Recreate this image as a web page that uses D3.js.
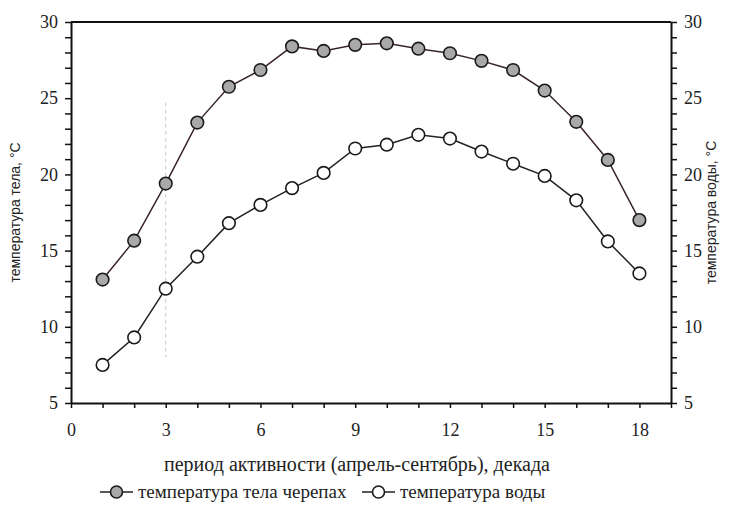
<!DOCTYPE html>
<html>
<head>
<meta charset="utf-8">
<script src="https://cdn.jsdelivr.net/npm/d3@7"></script>
<style>
  html, body { margin: 0; padding: 0; background: #fff; }
  svg { display: block; }
</style>
</head>
<body>
<svg id="chart" width="730" height="511"></svg>
<script>
// Decades of the activity period (April–September)
const decades = [1, 2, 3, 4, 5, 6, 7, 8, 9, 10, 11, 12, 13, 14, 15, 16, 17, 18];
// Turtle body temperature, °C
const bodyTemp = [13.1, 15.65, 19.4, 23.4, 25.75, 26.85, 28.4, 28.1, 28.5, 28.6, 28.25, 27.95, 27.45, 26.85, 25.5, 23.45, 20.95, 17.0];
// Water temperature, °C
const waterTemp = [7.5, 9.3, 12.5, 14.6, 16.8, 18.0, 19.1, 20.1, 21.7, 21.95, 22.6, 22.35, 21.5, 20.7, 19.9, 18.3, 15.6, 13.5];
const xTickValues = [0, 3, 6, 9, 12, 15, 18];
const yTickValues = [5, 10, 15, 20, 25, 30];

const svg = d3.select("#chart");
const plotLeft = 71, plotRight = 671, plotTop = 22, plotBottom = 403;

const x = d3.scaleLinear().domain([0, 19]).range([plotLeft, plotRight]);
const y = d3.scaleLinear().domain([5, 30]).range([plotBottom, plotTop]);

const serif = "'Liberation Serif', 'Times New Roman', serif";
const sans = "'Liberation Sans', Arial, sans-serif";

// faint dashed guide at the 3rd decade
svg.append("line")
  .attr("x1", x(3)).attr("x2", x(3))
  .attr("y1", y(24.7)).attr("y2", y(8))
  .attr("stroke", "#c8c8c8").attr("stroke-width", 1)
  .attr("stroke-dasharray", "4,3");

// top frame line
svg.append("line")
  .attr("x1", plotLeft).attr("x2", plotRight)
  .attr("y1", plotTop).attr("y2", plotTop)
  .attr("stroke", "#111").attr("stroke-width", 2);

function styleAxis(g) {
  g.select(".domain").attr("stroke", "#111").attr("stroke-width", 2);
  g.selectAll(".tick line").attr("stroke", "#111").attr("stroke-width", 1.5);
  g.selectAll(".tick text").attr("font-family", serif).attr("font-size", 18).attr("fill", "#222");
}

// bottom axis: ticks every decade, labels every 3
const xAxis = d3.axisBottom(x)
  .tickValues(d3.range(0, 20, 1))
  .tickSize(5).tickSizeOuter(0)
  .tickFormat(d => xTickValues.includes(d) ? d : "");
svg.append("g").attr("transform", `translate(0,${plotBottom})`).call(xAxis).call(styleAxis)
  .call(g => g.selectAll(".tick text").attr("dy", "1.4em"));

// left and right axes: minor ticks every degree
const yTicks = d3.range(5, 31, 1);
const yLeft = d3.axisLeft(y).tickValues(yTicks).tickSize(6).tickSizeOuter(0)
  .tickFormat(d => yTickValues.includes(d) ? d : "");
svg.append("g").attr("transform", `translate(${plotLeft},0)`).call(yLeft).call(styleAxis)
  .call(g => g.selectAll(".tick text").attr("x", -13));

const yRight = d3.axisRight(y).tickValues(yTicks).tickSize(6).tickSizeOuter(0)
  .tickFormat(d => yTickValues.includes(d) ? d : "");
svg.append("g").attr("transform", `translate(${plotRight},0)`).call(yRight).call(styleAxis)
  .call(g => g.selectAll(".tick text").attr("x", 13));

// axis titles
svg.append("text")
  .attr("transform", `translate(20,${y(17.5)}) rotate(-90)`)
  .attr("text-anchor", "middle")
  .attr("font-family", sans).attr("font-size", 14).attr("fill", "#222")
  .text("температура тела, °С");

svg.append("text")
  .attr("transform", `translate(716,${y(17.5)}) rotate(-90)`)
  .attr("text-anchor", "middle")
  .attr("font-family", sans).attr("font-size", 14).attr("fill", "#222")
  .text("температура воды, °С");

svg.append("text")
  .attr("x", 357).attr("y", 471)
  .attr("text-anchor", "middle")
  .attr("font-family", serif).attr("font-size", 20).attr("fill", "#222")
  .text("период активности (апрель-сентябрь), декада");

// series
const series = [
  { name: "температура тела черепах", values: bodyTemp, fill: "#a9a9a9", line: "#3a2526" },
  { name: "температура воды", values: waterTemp, fill: "#ffffff", line: "#222" }
];

const lineGen = d3.line().x(d => x(d[0])).y(d => y(d[1]));

series.forEach(s => {
  const pts = decades.map((d, i) => [d, s.values[i]]);
  svg.append("path")
    .datum(pts)
    .attr("d", lineGen)
    .attr("fill", "none")
    .attr("stroke", s.line)
    .attr("stroke-width", 1.5);
  svg.append("g").selectAll("circle")
    .data(pts).join("circle")
    .attr("cx", d => x(d[0])).attr("cy", d => y(d[1]))
    .attr("r", 6.3)
    .attr("fill", s.fill)
    .attr("stroke", "#1a1a1a").attr("stroke-width", 1.6);
});

// legend
const legendY = 498;
const legendItems = [
  { s: series[0], x0: 100 },
  { s: series[1], x0: 362 }
];
legendItems.forEach(({ s, x0 }) => {
  const g = svg.append("g");
  g.append("line").attr("x1", x0).attr("x2", x0 + 33)
    .attr("y1", legendY - 6).attr("y2", legendY - 6)
    .attr("stroke", "#222").attr("stroke-width", 1.5);
  g.append("circle").attr("cx", x0 + 16.5).attr("cy", legendY - 6).attr("r", 6)
    .attr("fill", s.fill).attr("stroke", "#1a1a1a").attr("stroke-width", 1.6);
  g.append("text").attr("x", x0 + 38).attr("y", legendY)
    .attr("font-family", serif).attr("font-size", 19).attr("fill", "#222")
    .text(s.name);
});
</script>
</body>
</html>
